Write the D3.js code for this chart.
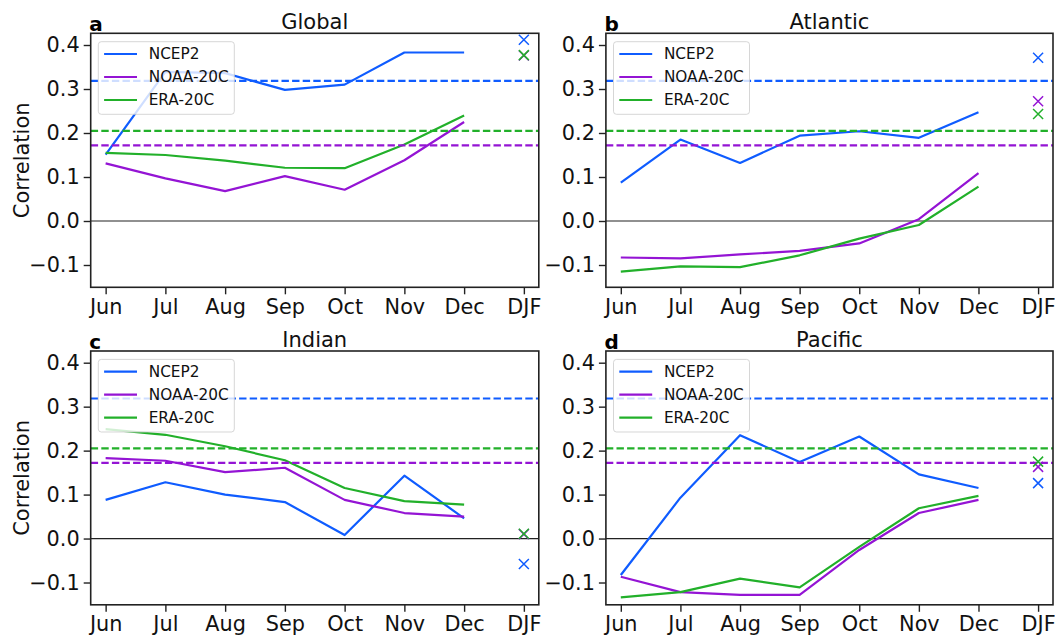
<!DOCTYPE html>
<html>
<head>
<meta charset="utf-8">
<script src="https://cdn.jsdelivr.net/npm/d3@7"></script>
<style>
  html, body { margin: 0; padding: 0; background: #fff; }
  svg { display: block; font-family: "DejaVu Sans", sans-serif; }
</style>
</head>
<body>
<svg id="chart" width="1055" height="637"></svg>
<script>
// ---------- data ----------
const months = ["Jun", "Jul", "Aug", "Sep", "Oct", "Nov", "Dec"];
const xTickLabels = ["Jun", "Jul", "Aug", "Sep", "Oct", "Nov", "Dec", "DJF"];
const yTicks = [-0.1, 0.0, 0.1, 0.2, 0.3, 0.4];
const seriesNames = ["NCEP2", "NOAA-20C", "ERA-20C"];
const seriesColors = ["#0f5cff", "#9414d4", "#22b02a"];
const significance = [0.3185, 0.172, 0.205];   // dashed reference levels
const panelTitles = ["Global", "Atlantic", "Indian", "Pacific"];
const panelLetters = ["a", "b", "c", "d"];

const globalNCEP2 = [0.151, 0.339, 0.336, 0.298, 0.310, 0.383, 0.383];
const globalNOAA  = [0.131, 0.097, 0.068, 0.102, 0.071, 0.138, 0.225];
const globalERA   = [0.155, 0.150, 0.137, 0.121, 0.120, 0.174, 0.240];
const globalDJF   = [0.412, 0.376, 0.377];

const atlanticNCEP2 = [0.087, 0.185, 0.132, 0.194, 0.204, 0.189, 0.247];
const atlanticNOAA  = [-0.083, -0.085, -0.076, -0.068, -0.051, 0.004, 0.109];
const atlanticERA   = [-0.115, -0.103, -0.105, -0.078, -0.040, -0.009, 0.078];
const atlanticDJF   = [0.371, 0.272, 0.243];

const indianNCEP2 = [0.088, 0.128, 0.100, 0.083, 0.008, 0.143, 0.046];
const indianNOAA  = [0.183, 0.177, 0.151, 0.161, 0.088, 0.058, 0.050];
const indianERA   = [0.249, 0.236, 0.210, 0.178, 0.115, 0.085, 0.077];
const indianDJF   = [-0.058, 0.010, 0.011];

const pacificNCEP2 = [-0.083, 0.093, 0.235, 0.174, 0.232, 0.146, 0.115];
const pacificNOAA  = [-0.087, -0.122, -0.128, -0.128, -0.026, 0.058, 0.088];
const pacificERA   = [-0.134, -0.122, -0.091, -0.111, -0.019, 0.069, 0.097];
const pacificDJF   = [0.126, 0.163, 0.175];

const panels = [
  { series: [globalNCEP2, globalNOAA, globalERA], djf: globalDJF },
  { series: [atlanticNCEP2, atlanticNOAA, atlanticERA], djf: atlanticDJF },
  { series: [indianNCEP2, indianNOAA, indianERA], djf: indianDJF },
  { series: [pacificNCEP2, pacificNOAA, pacificERA], djf: pacificDJF }
];

// ---------- layout ----------
const svg = d3.select("#chart");
const colLeft = [90.7, 605.9];
const colRight = [538.8, 1053.0];
const rowTop = [33.3, 351.0];
const rowBottom = [287.3, 604.8];
const tickFont = 20.8;

panels.forEach((p, i) => {
  const col = i % 2, row = Math.floor(i / 2);
  const L = colLeft[col], R = colRight[col], T = rowTop[row], B = rowBottom[row];

  const x = d3.scaleLinear().domain([-0.25, 7.25]).range([L, R]);
  const y = d3.scaleLinear().domain([-0.1507, 0.4266]).range([B, T]);

  const g = svg.append("g");

  // clip
  const clipId = "clip" + i;
  svg.append("clipPath").attr("id", clipId)
    .append("rect").attr("x", L).attr("y", T).attr("width", R - L).attr("height", B - T);
  const plot = g.append("g").attr("clip-path", `url(#${clipId})`);

  // zero line
  plot.append("line")
    .attr("x1", L).attr("x2", R)
    .attr("y1", y(0)).attr("y2", y(0))
    .attr("stroke", "#222").attr("stroke-width", 1.2);

  // series lines
  const line = d3.line().x((d, k) => x(k)).y(d => y(d));
  p.series.forEach((s, k) => {
    plot.append("path")
      .datum(s)
      .attr("d", line)
      .attr("fill", "none")
      .attr("stroke", seriesColors[k])
      .attr("stroke-width", 2.2)
      .attr("stroke-linejoin", "round");
  });

  // dashed significance lines
  significance.forEach((v, k) => {
    plot.append("line")
      .attr("x1", L).attr("x2", R)
      .attr("y1", y(v)).attr("y2", y(v))
      .attr("stroke", seriesColors[k])
      .attr("stroke-width", 2.2)
      .attr("stroke-dasharray", "7.4,3.2");
  });

  // DJF markers
  const hs = 5;
  p.djf.forEach((v, k) => {
    const cx = x(7), cy = y(v);
    plot.append("path")
      .attr("d", `M${cx - hs},${cy - hs}L${cx + hs},${cy + hs}M${cx - hs},${cy + hs}L${cx + hs},${cy - hs}`)
      .attr("stroke", seriesColors[k])
      .attr("stroke-width", 1.5)
      .attr("fill", "none");
  });

  // legend
  const lg = g.append("g").attr("transform", `translate(${L + 7.6},${T + 8.4})`);
  lg.append("rect")
    .attr("width", 136).attr("height", 72.6)
    .attr("rx", 3).attr("ry", 3)
    .attr("fill", "#fff").attr("fill-opacity", 0.8)
    .attr("stroke", "#cccccc").attr("stroke-opacity", 0.8).attr("stroke-width", 1);
  seriesNames.forEach((name, k) => {
    const yy = 12.3 + k * 23;
    lg.append("line")
      .attr("x1", 5.8).attr("x2", 38.7)
      .attr("y1", yy).attr("y2", yy)
      .attr("stroke", seriesColors[k]).attr("stroke-width", 2.2);
    lg.append("text")
      .attr("x", 50.4).attr("y", yy)
      .attr("dy", "0.36em")
      .attr("font-size", 15.3)
      .attr("fill", "#111")
      .text(name);
  });

  // axes
  const xAxis = d3.axisBottom(x)
    .tickValues(d3.range(xTickLabels.length))
    .tickFormat(k => xTickLabels[k])
    .tickSize(7).tickPadding(4.5);
  const gx = g.append("g").attr("transform", `translate(0,${B})`).call(xAxis);
  const yAxis = d3.axisLeft(y)
    .tickValues(yTicks)
    .tickFormat(d3.format(".1f"))
    .tickSize(7).tickPadding(4);
  const gy = g.append("g").attr("transform", `translate(${L},0)`).call(yAxis);
  [gx, gy].forEach(a => {
    a.select(".domain").remove();
    a.selectAll(".tick line").attr("stroke", "#222").attr("stroke-width", 1.4);
    a.selectAll(".tick text")
      .attr("font-size", tickFont)
      .attr("font-family", "DejaVu Sans, sans-serif")
      .attr("fill", "#111");
  });

  // frame
  g.append("rect")
    .attr("x", L).attr("y", T).attr("width", R - L).attr("height", B - T)
    .attr("fill", "none").attr("stroke", "#222").attr("stroke-width", 1.6);

  // title and panel letter
  g.append("text")
    .attr("x", (L + R) / 2).attr("y", T - 4.3)
    .attr("text-anchor", "middle")
    .attr("font-size", 21)
    .attr("fill", "#111")
    .text(panelTitles[i]);
  g.append("text")
    .attr("x", L - 1.5).attr("y", T - 2.3)
    .attr("font-size", 20)
    .attr("font-weight", "bold")
    .attr("fill", "#000")
    .text(panelLetters[i]);

  // y label on left column
  if (col === 0) {
    g.append("text")
      .attr("transform", `translate(28.5,${(T + B) / 2}) rotate(-90)`)
      .attr("text-anchor", "middle")
      .attr("font-size", 21)
      .attr("fill", "#111")
      .text("Correlation");
  }
});
</script>
</body>
</html>
